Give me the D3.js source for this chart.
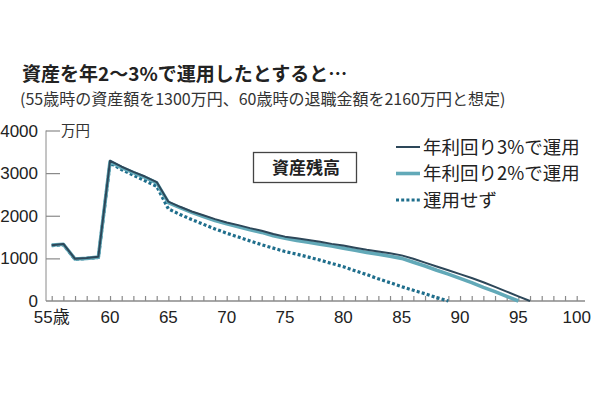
<!DOCTYPE html>
<html>
<head>
<meta charset="utf-8">
<script src="https://cdn.jsdelivr.net/npm/d3@7"></script>
<style>
  body { margin: 0; background: #fff; }
  svg { display: block; }
  text { font-family: "Liberation Sans", "Noto Sans CJK JP", sans-serif; }
  .jp { font-family: "Noto Sans CJK JP", sans-serif; }
</style>
</head>
<body>
<svg id="chart" width="600" height="400"></svg>
<script>
// ages 55..96
const ages = d3.range(55, 97);

// 資産残高 (万円) by age
const rate3 = [1310, 1340, 990, 1010, 1040, 3290, 3150, 3030, 2920, 2790,
  2330, 2210, 2100, 2010, 1920, 1840, 1780, 1710, 1650, 1570,
  1510, 1470, 1430, 1390, 1340, 1300, 1250, 1200, 1160, 1120,
  1070, 990, 900, 810, 720, 630, 540, 440, 330, 220, 110, 0];
const rate2 = [1310, 1330, 985, 1000, 1030, 3270, 3130, 3010, 2900, 2770,
  2310, 2190, 2080, 1980, 1890, 1810, 1740, 1670, 1610, 1530,
  1470, 1420, 1380, 1330, 1290, 1240, 1190, 1140, 1100, 1050,
  1000, 910, 820, 720, 630, 530, 430, 320, 220, 110, 0];
const noInvest = [1300, 1320, 980, 1000, 1020, 3240, 3080, 2950, 2820, 2690,
  2160, 2030, 1910, 1800, 1690, 1590, 1500, 1410, 1320, 1240,
  1160, 1100, 1030, 960, 880, 805, 710, 620, 520, 430,
  336, 250, 170, 80, 0];

const yTicks = [0, 1000, 2000, 3000, 4000];
const xTicks = [55, 60, 65, 70, 75, 80, 85, 90, 95, 100];

const title = "資産を年2～3%で運用したとすると…";
const subtitle = "(55歳時の資産額を1300万円、60歳時の退職金額を2160万円と想定)";

const series = [
  {name: "運用せず", values: noInvest, color: "#1f6e8c", width: 3.2, dash: "3,2.2"},
  {name: "年利回り2%で運用", values: rate2, color: "#62a9b8", width: 3.6, dash: null},
  {name: "年利回り3%で運用", values: rate3, color: "#2d4759", width: 2, dash: null},
];

const svg = d3.select("#chart");
const x = d3.scaleLinear().domain([55, 100]).range([51.7, 576.7]);
const y = d3.scaleLinear().domain([0, 4000]).range([301, 130.5]);
const axisColor = "#8a8a8a";

// title
svg.append("text").attr("class", "jp")
  .attr("x", 22).attr("y", 80.5)
  .attr("font-size", 19).attr("font-weight", "bold").attr("fill", "#222")
  .text(title);
svg.append("text").attr("class", "jp")
  .attr("x", 20).attr("y", 105)
  .attr("font-size", 16).attr("fill", "#333")
  .text(subtitle);

// y axis
const yAxis = svg.append("g").attr("transform", "translate(46,0)")
  .call(d3.axisRight(y).tickValues(yTicks).tickSize(14).tickFormat(""));
yAxis.select(".domain").attr("stroke", axisColor).attr("d", "M0," + y(4000) + "V" + y(0));
yAxis.selectAll(".tick line").attr("stroke", axisColor).attr("stroke-width", 1.2);
yAxis.selectAll(".tick").filter(d => d === 0).remove();

svg.selectAll(".ylab").data(yTicks).enter().append("text")
  .attr("class", "ylab")
  .attr("x", 38).attr("y", d => y(d) + 6)
  .attr("text-anchor", "end").attr("font-size", 17).attr("fill", "#222")
  .text(d => d);

svg.append("text").attr("class", "jp")
  .attr("x", 61).attr("y", y(4000) + 5)
  .attr("font-size", 14.5).attr("fill", "#333")
  .text("万円");

// x axis
const xAxis = svg.append("g").attr("transform", "translate(0," + y(0) + ")")
  .call(d3.axisTop(x).tickValues(d3.range(55, 101)).tickSize(5).tickFormat(""));
xAxis.select(".domain").attr("stroke", axisColor).attr("stroke-width", 1.5)
  .attr("d", "M46,0H585");
xAxis.selectAll(".tick line").attr("stroke", axisColor).attr("stroke-width", 1.2);

svg.selectAll(".xlab").data(xTicks).enter().append("text")
  .attr("class", "xlab")
  .attr("x", d => x(d)).attr("y", 323)
  .attr("text-anchor", "middle").attr("font-size", 17).attr("fill", "#222")
  .text(d => d === 55 ? "55歳" : d);

// lines
const line = d3.line().x((d, i) => x(ages[i])).y(d => y(d));
series.forEach(s => {
  svg.append("path")
    .datum(s.values)
    .attr("fill", "none")
    .attr("stroke", s.color)
    .attr("stroke-width", s.width)
    .attr("stroke-dasharray", s.dash)
    .attr("stroke-linejoin", "round")
    .attr("d", line);
});

// box label
svg.append("rect").attr("x", 253.5).attr("y", 152.5).attr("width", 103).attr("height", 30)
  .attr("fill", "#fff").attr("stroke", "#444").attr("stroke-width", 1.3);
svg.append("text").attr("class", "jp")
  .attr("x", 306).attr("y", 174).attr("text-anchor", "middle")
  .attr("font-size", 17).attr("font-weight", "bold").attr("fill", "#222")
  .text("資産残高");

// legend
const legendItems = [series[2], series[1], series[0]];
const lg = svg.selectAll(".lg").data(legendItems).enter().append("g")
  .attr("transform", (d, i) => "translate(396," + (147 + i * 26.5) + ")");
lg.append("line").attr("x1", 0).attr("x2", 24).attr("y1", 0).attr("y2", 0)
  .attr("stroke", d => d.color).attr("stroke-width", d => d.width)
  .attr("stroke-dasharray", d => d.dash);
lg.append("text").attr("class", "jp")
  .attr("x", 27).attr("y", 6.5).attr("font-size", 18.5).attr("fill", "#222")
  .text(d => d.name);
</script>
</body>
</html>
